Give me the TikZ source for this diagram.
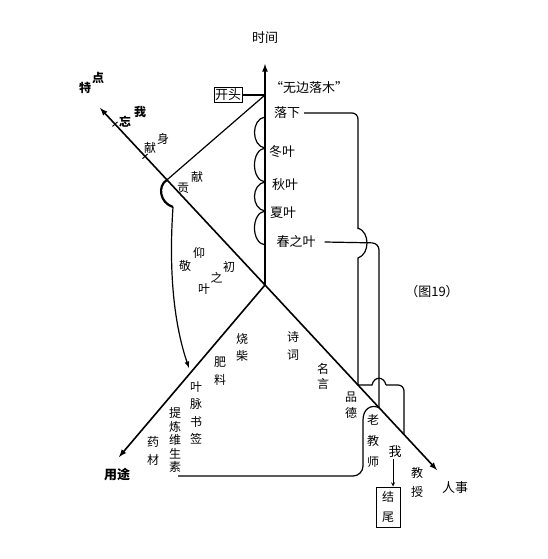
\documentclass[tikz,border=0pt]{standalone}
\usepackage{fontspec}
\newfontfamily\cjk{Noto Sans CJK SC}
\usepackage{tikz}
\usetikzlibrary{arrows,calc}

\tikzset{
  axis/.style={line width=1.6pt},
  link/.style={line width=1.2pt},
  lab/.style={font=\cjk\fontsize{13}{15}\selectfont, inner sep=1pt},
  blab/.style={font=\cjk\bfseries\fontsize{13}{15}\selectfont, inner sep=1pt},
  tlab/.style={font=\cjk\fontsize{12}{14}\selectfont, inner sep=0pt},
  vlab/.style={font=\cjk\fontsize{12}{#1}\selectfont, align=center, inner sep=0pt},
}

\begin{document}
\begin{tikzpicture}[x=1pt,y=-1pt]
\useasboundingbox (0,0) rectangle (547,559);
% the four axes
\coordinate (O) at (265,285);
\coordinate (top) at (265,64);
\coordinate (ul) at (100,108);
\coordinate (br) at (437,470);
\coordinate (bl) at (119,457);
\draw[axis,-latex] (O) -- (top);
\draw[axis,-latex] (O) -- (ul);
\draw[axis,-latex] (O) -- (br);
\draw[axis,-latex] (O) -- (bl);
\foreach \t in {0.727,0.909}
  \draw[line width=1pt] ($(O)!\t!(ul)$) ++(2.5,-2.3) -- ++(-5,4.6);

% points on the diagonal
\coordinate (G) at ($(O)!0.594!(ul)$);
\coordinate (L2) at ($(O)!0.663!(br)$);
\coordinate (L3) at ($(O)!0.808!(br)$);
\coordinate (K) at (265,95);

\node[lab] (time) at (265,38) {时间};
\node[lab, anchor=west] (wubian) at (269,88) {“无边落木”};
\node[lab] (luoxia) at (287,113) {落下};
\node[lab] (dongye) at (282,152) {冬叶};
\node[lab] (qiuye) at (285,185) {秋叶};
\node[lab] (xiaye) at (283,213) {夏叶};
\node[lab] (chun) at (296,242) {春之叶};
\node[lab] (fig) at (432,292) {（图19）};

% leaves along the time axis
\foreach \a/\b in {117/148,148/182,182/211,211/245}
  \draw[link] (265,\a) .. controls (251,\a+2) and (251,\b-2) .. (265,\b);

\node[draw, lab, line width=1pt, minimum width=28pt, minimum height=15pt] (kaitou) at (228,95) {开头};
\draw[link] (kaitou.east) -- (K);
\draw[link] (G) -- (K);

% upper left axis, one letter at a time
\foreach \ch/\x/\y [count=\i] in {特/85/88, 点/98/78}
  \node[tlab, font=\cjk\bfseries\fontsize{12}{14}\selectfont] (tedian\i) at (\x,\y) {\ch};
\foreach \ch/\x/\y [count=\i] in {忘/125/122, 我/140/112}
  \node[tlab, font=\cjk\bfseries\fontsize{12}{14}\selectfont] (wangwo\i) at (\x,\y) {\ch};
\foreach \ch/\x/\y [count=\i] in {献/150/148, 身/163/139}
  \node[tlab] (xianshen\i) at (\x,\y) {\ch};
\foreach \ch/\x/\y [count=\i] in {贡/183/188, 献/197/177}
  \node[tlab] (gongxian\i) at (\x,\y) {\ch};
\foreach \ch/\x/\y [count=\i] in {敬/185/266, 仰/199/253}
  \node[tlab] (jingyang\i) at (\x,\y) {\ch};
\foreach \ch/\x/\y [count=\i] in {叶/204/289, 之/216.5/278, 初/229/267}
  \node[tlab] (yezhichu\i) at (\x,\y) {\ch};

\coordinate (hook) at (173,207);
\coordinate (tip) at (189,368);
\draw[line width=2.2pt] (G) .. controls (157,186) and (160,203) .. (hook);
\draw[link,-latex] (hook) .. controls (168,280) and (176,330) .. (tip);

% lower left axis
\node[blab] (yongtu) at (117,474) {用途};
\node[vlab=17] (shaochai) at (242,347) {烧\\柴};
\node[vlab=18] (feiliao) at (220,371) {肥\\料};
\node[vlab=17.5] (yemai) at (196,413) {叶\\脉\\书\\签};
\node[vlab=13.5] (tilian) at (175,440) {提\\炼\\维\\生\\素};
\node[vlab=18] (yaocai) at (153,451) {药\\材};

% lower right axis
\node[vlab=18] (shici) at (293,346) {诗\\词};
\node[vlab=15] (mingyan) at (323,376) {名\\言};
\node[vlab=16] (pinde) at (351,405) {品\\德};
\node[vlab=21] (laojiaoshi) at (373,441) {老\\教\\师};
\node[vlab=19] (jiaoshou) at (417,482) {教\\授};
\node[lab] (renshi) at (455,488) {人事};
\node[lab] (wo) at (395,452) {我};
\node[draw, line width=1pt, vlab=20, minimum width=24pt, minimum height=40pt] (jiewei) at (388,507) {结\\尾};
\draw[line width=0.9pt,-stealth] ([xshift=-2pt]wo.south) -- ([xshift=-2pt]wo.south |- jiewei.north);

% links on the right
\draw[link, rounded corners=6] ([xshift=3pt]luoxia.east) -- (358,113) -- (358,229);
\draw[link] (358,228) .. controls (370,232) and (370,254) .. (358,258) -- (358,385) -- (372,385)
  .. controls (374,376) and (384,376) .. (386,385);
\draw[link, rounded corners=6] (386,385) -- (404,385) -- (L3);
\draw[link, rounded corners=7] ([xshift=8pt]chun.east) -- (379,243) -- (L2);
\draw[link] (L2) .. controls (371,404) and (363,409) .. (363,420);
\draw[link, rounded corners=10] (363,420) -- (363,476) -- (178,476);
\end{tikzpicture}
\end{document}
